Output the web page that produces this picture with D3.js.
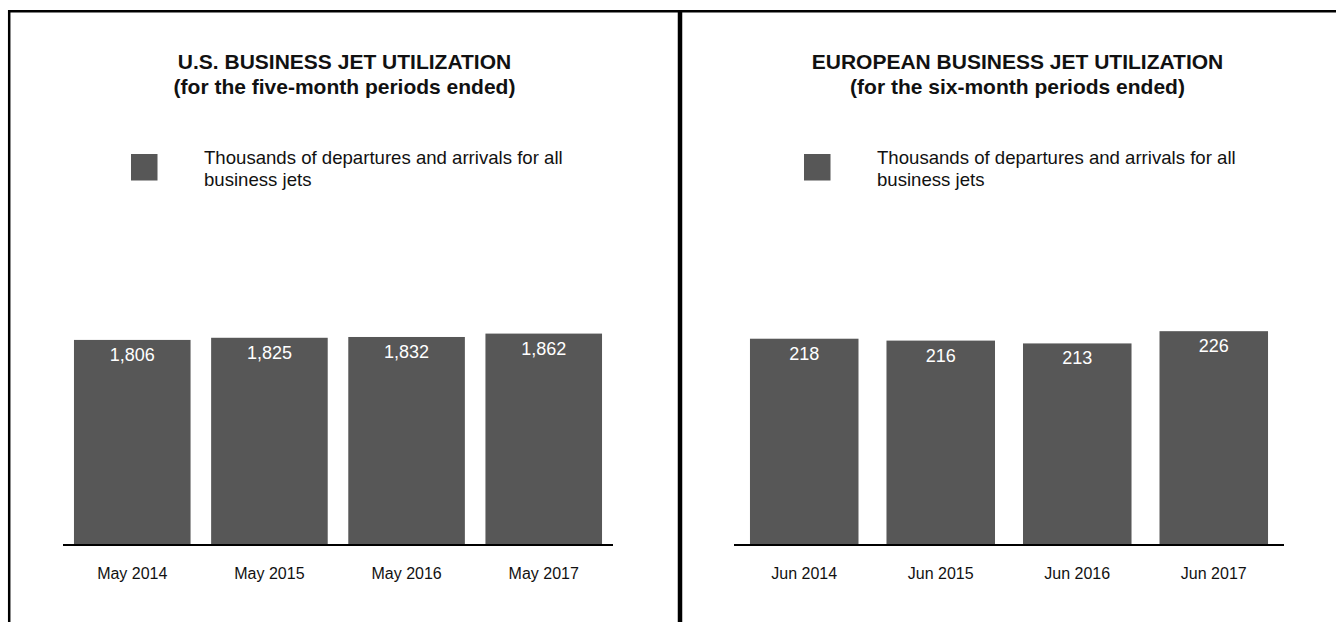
<!DOCTYPE html>
<html>
<head>
<meta charset="utf-8">
<script src="https://cdn.jsdelivr.net/npm/d3@7"></script>
<style>
  html, body { margin: 0; padding: 0; background: #fff; }
  svg { display: block; font-family: "Liberation Sans", Arial, sans-serif; }
</style>
</head>
<body>
<svg id="chart" width="1336" height="622"></svg>
<script>
// U.S. panel data (thousands of departures and arrivals, five months ended May)
const usCategories = ["May 2014", "May 2015", "May 2016", "May 2017"];
const usValues = [1806, 1825, 1832, 1862];
const usTitle = ["U.S. BUSINESS JET UTILIZATION", "(for the five-month periods ended)"];

// European panel data (thousands of departures and arrivals, six months ended June)
const euCategories = ["Jun 2014", "Jun 2015", "Jun 2016", "Jun 2017"];
const euValues = [218, 216, 213, 226];
const euTitle = ["EUROPEAN BUSINESS JET UTILIZATION", "(for the six-month periods ended)"];

const legendLines = ["Thousands of departures and arrivals for all", "business jets"];

const BAR = "#575757";
const svg = d3.select("#chart");

const baseY = 544, topY = 318;

function panel(opts) {
  const g = svg.append("g");
  const cx = opts.left + opts.width / 2;

  // title
  const t = g.append("text")
    .attr("text-anchor", "middle")
    .attr("font-weight", "bold")
    .attr("font-size", 21)
    .attr("fill", "#111");
  opts.title.forEach((line, i) => {
    t.append("tspan").attr("x", cx).attr("y", 68.5 + i * 25).text(line);
  });

  // legend
  g.append("rect")
    .attr("x", opts.left + 122).attr("y", 154)
    .attr("width", 26.5).attr("height", 26.5)
    .attr("fill", BAR);
  const lt = g.append("text").attr("font-size", 18.6).attr("fill", "#111");
  legendLines.forEach((line, i) => {
    lt.append("tspan").attr("x", opts.left + 195).attr("y", 164 + i * 22.4).text(line);
  });

  const x = d3.scaleBand()
    .domain(opts.categories)
    .range([opts.axisStart, opts.axisEnd])
    .paddingInner(opts.padInner)
    .paddingOuter(opts.padOuter);
  const y = d3.scaleLinear().domain([0, opts.max]).range([baseY, topY]);

  const data = opts.categories.map((c, i) => ({ c, v: opts.values[i] }));

  g.selectAll("rect.bar").data(data).join("rect")
    .attr("class", "bar")
    .attr("x", d => x(d.c))
    .attr("width", x.bandwidth())
    .attr("y", d => y(d.v))
    .attr("height", d => y(0) - y(d.v))
    .attr("fill", BAR);

  g.selectAll("text.val").data(data).join("text")
    .attr("class", "val")
    .attr("x", d => x(d.c) + x.bandwidth() / 2)
    .attr("y", d => y(d.v) + 21)
    .attr("text-anchor", "middle")
    .attr("font-size", 18)
    .attr("fill", "#fff")
    .text(d => opts.format(d.v));

  // category axis
  const axis = g.append("g")
    .attr("transform", `translate(0,${baseY + 1})`)
    .call(d3.axisBottom(x).tickSize(0).tickPadding(23));
  axis.select(".domain").attr("stroke", "#000").attr("stroke-width", 2)
    .attr("d", `M${opts.axisStart},0H${opts.axisEnd}`);
  axis.selectAll(".tick text")
    .attr("font-size", 16)
    .attr("font-family", "Liberation Sans, Arial, sans-serif")
    .attr("fill", "#111")
    .attr("dy", "0.71em");
}

panel({
  left: 9, width: 671,
  title: usTitle, categories: usCategories, values: usValues,
  max: 2000, axisStart: 63, axisEnd: 613, padInner: 0.15, padOuter: 0.08,
  format: d3.format(",")
});

panel({
  left: 682, width: 671,
  title: euTitle, categories: euCategories, values: euValues,
  max: 240, axisStart: 734, axisEnd: 1284, padInner: 0.205, padOuter: 0.117,
  format: d3.format(",")
});

// frame: top edge, left edge and the divider between panels
svg.append("line").attr("x1", 8).attr("x2", 1336).attr("y1", 11.2).attr("y2", 11.2)
  .attr("stroke", "#000").attr("stroke-width", 2.5);
svg.append("line").attr("x1", 9.2).attr("x2", 9.2).attr("y1", 10).attr("y2", 622)
  .attr("stroke", "#000").attr("stroke-width", 2.5);
svg.append("line").attr("x1", 680).attr("x2", 680).attr("y1", 10).attr("y2", 622)
  .attr("stroke", "#000").attr("stroke-width", 4.5);
</script>
</body>
</html>
